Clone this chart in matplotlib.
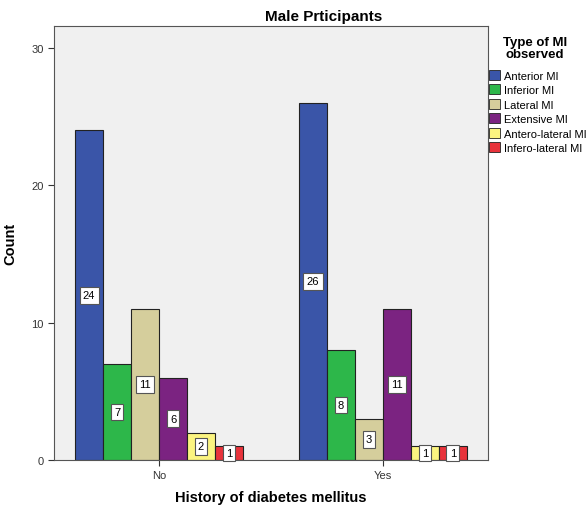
import numpy as np
import matplotlib
matplotlib.use("Agg")
import matplotlib.pyplot as plt
from matplotlib.patches import Patch

plt.rcParams['font.family'] = ['Liberation Sans', 'DejaVu Sans']

grupos = ["No", "Yes"]
tipos = ["Anterior MI", "Inferior MI", "Lateral MI", "Extensive MI",
         "Antero-lateral MI", "Infero-lateral MI"]
contagens = {
    "Anterior MI": [24, 26],
    "Inferior MI": [7, 8],
    "Lateral MI": [11, 3],
    "Extensive MI": [6, 11],
    "Antero-lateral MI": [2, 1],
    "Infero-lateral MI": [1, 1],
}
cores = ["#3A55A8", "#2DB74A", "#D5CE9C", "#7B2381", "#FBF480", "#E8333B"]

fig = plt.figure(figsize=(5.88, 5.10), dpi=100)
ax = fig.add_axes([54/588, 49/510, 434/588, 434/510])
ax.set_facecolor("#F0F0F0")

x = np.arange(len(grupos))
largura = 0.125
for i, (tipo, cor) in enumerate(zip(tipos, cores)):
    pos = x - 0.375 + largura * (i + 0.5)
    vals = contagens[tipo]
    ax.bar(pos, vals, largura, color=cor, edgecolor="#222222", linewidth=0.8, zorder=2)
    for p, v in zip(pos, vals):
        ax.text(p, v / 2, str(v), ha="center", va="center", fontsize=8, zorder=4,
                bbox=dict(boxstyle="square,pad=0.3", fc="white", ec="#555555", lw=0.8))

ax.set_xlim(-0.469, 1.469)
ax.set_ylim(0, 31.6)
ax.set_yticks([0, 10, 20, 30])
ax.set_xticks(x)
ax.set_xticklabels(grupos)
ax.tick_params(labelsize=8, labelcolor="#333333", length=4, color="#333333")
for s in ax.spines.values():
    s.set_color("#555555")
    s.set_linewidth(0.8)

ax.set_ylabel("Count", fontsize=10.5, fontweight="bold", labelpad=10)
ax.set_xlabel("History of diabetes mellitus", fontsize=10.5, fontweight="bold", labelpad=7)
fig.text(324/588, 1 - 17/510, "Male Prticipants", ha="center", va="center",
         fontsize=11, fontweight="bold")

fig.text(535/588, 1 - 49/510, "Type of MI\nobserved", ha="center", va="center",
         fontsize=9.5, fontweight="bold", linespacing=0.95)
handles = [Patch(facecolor=c, edgecolor="#222222", linewidth=0.6, label=t)
           for t, c in zip(tipos, cores)]
fig.legend(handles=handles, loc="upper left", bbox_to_anchor=(489/588, 1 - 71/510),
           frameon=False, fontsize=8, handlelength=1.0, handleheight=1.0,
           handletextpad=0.35, labelspacing=0.33, borderaxespad=0, borderpad=0)

fig.savefig("out.png", dpi=100)
